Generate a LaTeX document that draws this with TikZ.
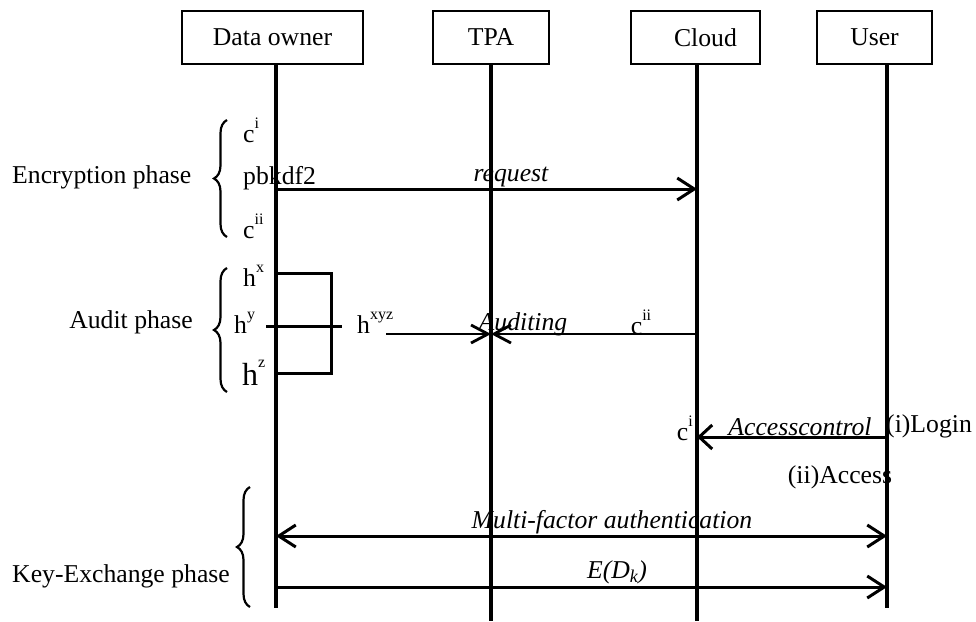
\documentclass[tikz,border=0pt]{standalone}
\usepackage{fontspec}
\setmainfont{Liberation Serif}
\usetikzlibrary{arrows.meta,decorations.pathreplacing}
\newcommand\supx[1]{\raisebox{0.55em}{\fontsize{16}{16}\selectfont #1}}
\begin{document}
\begin{tikzpicture}[x=1pt,y=-1pt,
  every node/.style={inner sep=0pt,font=\fontsize{25.7}{29}\selectfont},
  actor/.style={draw,line width=2.8pt,minimum height=53pt},
  life/.style={line width=3.3pt},
  msg/.style={line width=3pt,-{Straight Barb[length=17pt,width=22pt,line width=3pt]}},
  msgsm/.style={line width=3pt,-{Straight Barb[length=13pt,width=24pt,line width=3pt]}},
  dmsg/.style={line width=3pt,{Straight Barb[length=17pt,width=22pt,line width=3pt]}-{Straight Barb[length=17pt,width=22pt,line width=3pt]}},
  thin msg/.style={line width=1.9pt,-{Straight Barb[length=17pt,width=18pt,line width=2.8pt]}},
  ital/.style={font=\fontsize{25.7}{29}\selectfont\itshape},
  brc/.style={decorate,decoration={brace,amplitude=13pt,aspect=0.5},line width=2.2pt},
  hline/.style={line width=3pt}]
\useasboundingbox (0,0) rectangle (976,621);

% actors
\node[actor,minimum width=181pt] (do) at (272.5,37.5) {Data owner};
\node[actor,minimum width=116pt] (tpa) at (491,37.5) {TPA};
\node[actor,minimum width=129pt] (cl) at (695.5,37.5) {\hspace{20pt}Cloud};
\node[actor,minimum width=115pt] (us) at (874.5,37.5) {User};

% lifelines
\coordinate (doT) at (276,64);  \coordinate (doB) at (276,608);
\coordinate (tpT) at (491,64);  \coordinate (tpB) at (491,621);
\coordinate (clT) at (697,64);  \coordinate (clB) at (697,621);
\coordinate (usT) at (887,64);  \coordinate (usB) at (887,608);
\draw[life] (doT) -- (doB);
\draw[life] (tpT) -- (tpB);
\draw[life] (clT) -- (clB);
\draw[life] (usT) -- (usB);

% Encryption phase
\node[anchor=west] (encl) at (12,177) {Encryption phase};
\coordinate (encB1) at (227,237); \coordinate (encB2) at (227,120);
\draw[brc] (encB1) -- (encB2);
\node[anchor=west] (ci) at (243,130) {c\supx{i}};
\node[anchor=west] (pb) at (243,178) {pbkdf2};
\node[anchor=west] (cii) at (243,226) {c\supx{ii}};
\coordinate (rqS) at (276,189); \coordinate (rqE) at (697,189);
\draw[msg] (rqS) -- (rqE);
\node[ital] (rq) at (511,177) {request};

% Audit phase
\node[anchor=east] (audl) at (193,322) {Audit phase};
\coordinate (audB1) at (227,392); \coordinate (audB2) at (227,268);
\draw[brc] (audB1) -- (audB2);
\node[anchor=west] (hx) at (243,276) {h\supx{x}};
\node[anchor=west] (hy) at (234,323) {h\supx{y}};
\node[anchor=west,font=\fontsize{32}{35}\selectfont] (hz) at (242,373) {h\supx{z}};
\coordinate (bx1) at (276,273); \coordinate (bx2) at (331,273);
\coordinate (bx3) at (331,373); \coordinate (bx4) at (276,373);
\draw[hline] (bx1) -- (bx2) -- (bx3) -- (bx4);
\coordinate (hyS) at (266,326); \coordinate (hyE) at (342,326);
\draw[hline] (hyS) -- (hyE);
\node[anchor=west] (hxyz) at (357,323) {h\supx{xyz}};
\coordinate (axS) at (386,334); \coordinate (axT) at (491,334);
\coordinate (acS) at (697,334);
\draw[thin msg] (axS) -- (axT);
\draw[thin msg] (acS) -- (axT);
\node[ital] (aud) at (523,324) {Auditing};
\node (cii2) at (641,322) {c\supx{ii}};

% Access control
\coordinate (acU) at (887,437); \coordinate (acC) at (697,437);
\draw[msgsm] (acU) -- (acC);
\node[anchor=east] (ci2) at (693,428) {c\supx{i}};
\node[ital] (acc) at (800,427) {Accesscontrol};
\node[anchor=west] (login) at (886,426) {(i)Login};
\node (access) at (840,477) {(ii)Access};

% Key-Exchange phase
\node[anchor=west] (kel) at (12,576) {Key-Exchange phase};
\coordinate (keB1) at (250,607); \coordinate (keB2) at (250,487);
\draw[brc] (keB1) -- (keB2);
\coordinate (mfS) at (276,536); \coordinate (mfE) at (887,536);
\draw[dmsg] (mfS) -- (mfE);
\node[ital] (mf) at (612,522) {Multi-factor authentication};
\coordinate (edS) at (276,587); \coordinate (edE) at (887,587);
\draw[msg] (edS) -- (edE);
\node[ital] (ed) at (617,572) {E(D\textsubscript{k})};
\end{tikzpicture}
\end{document}
